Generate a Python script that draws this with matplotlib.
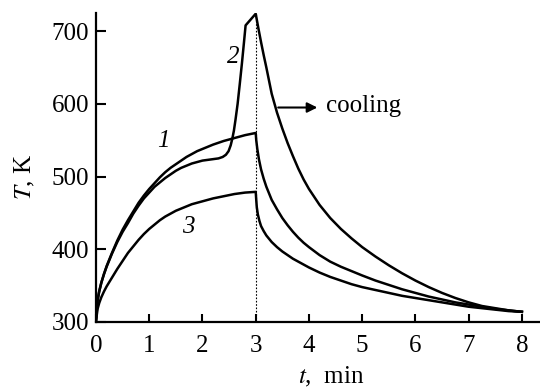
import matplotlib
matplotlib.use("Agg")
import matplotlib.pyplot as plt

plt.rcParams['font.family'] = ['Liberation Serif', 'DejaVu Serif']
plt.rcParams['mathtext.fontset'] = 'stix'

# heating part, shared time grid for curves 1 and 3
t_heat = [0, 0.03, 0.06, 0.1, 0.15, 0.2, 0.3, 0.4, 0.5, 0.6, 0.7, 0.8, 0.9, 1.0, 1.1, 1.2, 1.3,
          1.4, 1.5, 1.6, 1.7, 1.8, 1.9, 2.0, 2.2, 2.4, 2.6, 2.8, 3.0]
T1_heat = [302, 330, 342, 354, 366, 377, 395, 412, 427, 440, 452, 464, 474, 483, 491, 499, 506,
           512, 517, 522, 527, 531, 535, 538, 544, 549, 553, 557, 560]
T3_heat = [302, 318, 326, 334, 342, 349, 361, 373, 384, 395, 404, 413, 421, 428, 434, 440, 445,
           449, 453, 456, 459, 462, 464, 466, 470, 473, 476, 478, 479]

# curve 2 heating (with the jump before t = 3)
t2_heat = [0, 0.03, 0.06, 0.1, 0.15, 0.2, 0.3, 0.4, 0.5, 0.6, 0.7, 0.8, 0.9, 1.0, 1.1, 1.2, 1.3,
           1.4, 1.5, 1.6, 1.7, 1.8, 1.9, 2.0, 2.1, 2.2, 2.3, 2.38, 2.44, 2.49, 2.53, 2.56, 2.59,
           2.62, 2.66, 2.7, 2.74, 2.78, 2.81, 3.0]
T2_heat = [302, 330, 342, 354, 366, 376, 394, 410, 424, 436, 449, 460, 470, 478, 486, 492, 498,
           503, 508, 512, 515, 518, 520, 522, 523, 524, 525, 527, 530, 535, 543, 552, 563,
           578, 600, 627, 655, 685, 708, 724]

# cooling part
t1_cool = [3.01, 3.03, 3.06, 3.1, 3.15, 3.2, 3.3, 3.4, 3.5, 3.6, 3.7, 3.8, 3.9, 4.0, 4.2, 4.4,
           4.6, 4.8, 5.0, 5.25, 5.5, 5.75, 6.0, 6.25, 6.5, 6.75, 7.0, 7.25, 7.5, 7.75, 8.0]
T1_cool = [550, 538, 524, 510, 497, 486, 468, 455, 443, 433, 424, 416, 409, 403, 392, 383,
           376, 370, 364, 357, 351, 345, 340, 335, 331, 327, 324, 321, 318, 316, 314]

t2_cool = [3.05, 3.1, 3.15, 3.2, 3.3, 3.4, 3.5, 3.6, 3.7, 3.8, 3.9, 4.0, 4.2, 4.4, 4.6, 4.8,
           5.0, 5.25, 5.5, 5.75, 6.0, 6.25, 6.5, 6.75, 7.0, 7.25, 7.5, 7.75, 8.0]
T2_cool = [704, 685, 667, 650, 614, 588, 566, 546, 528, 511, 496, 483, 461, 443, 428, 415,
           403, 390, 378, 367, 357, 348, 340, 333, 327, 322, 319, 316, 314]

t3_cool = [3.01, 3.02, 3.04, 3.07, 3.1, 3.15, 3.2, 3.3, 3.4, 3.5, 3.6, 3.7, 3.8, 3.9, 4.0, 4.2,
           4.4, 4.6, 4.8, 5.0, 5.25, 5.5, 5.75, 6.0, 6.25, 6.5, 6.75, 7.0, 7.25, 7.5, 7.75, 8.0]
T3_cool = [468, 458, 448, 439, 432, 425, 419, 410, 403, 397, 392, 387, 383, 379, 375, 368,
           362, 357, 352, 348, 344, 340, 336, 333, 330, 327, 324, 321, 319, 317, 315, 314]

xticks = [0, 1, 2, 3, 4, 5, 6, 7, 8]
yticks = [300, 400, 500, 600, 700]

fig = plt.figure(figsize=(5.4, 3.89), dpi=100)
ax = fig.add_axes([96 / 540, 67 / 389, 444 / 540, 309 / 389])

curves = [(t_heat + t1_cool, T1_heat + T1_cool),
          (t2_heat + t2_cool, T2_heat + T2_cool),
          (t_heat + t3_cool, T3_heat + T3_cool)]
for t, T in curves:
    ax.plot(t, T, color='black', lw=1.8)

# dotted line where cooling starts
ax.plot([3, 3], [300, 724], color='black', lw=0.8, ls=(0, (1.5, 1.5)))

ax.set_xlim(0, 8.34)
ax.set_ylim(300, 725)
ax.set_xticks(xticks)
ax.set_yticks(yticks)
ax.spines['top'].set_visible(False)
ax.spines['right'].set_visible(False)
for s in ['left', 'bottom']:
    ax.spines[s].set_linewidth(1.6)
ax.tick_params(axis='both', direction='in', width=1.5, labelsize=18)
ax.tick_params(axis='x', length=6, pad=9)
ax.tick_params(axis='y', length=7, pad=5)

ax.set_xlabel('$t$,  min', fontsize=18, labelpad=0)
ax.set_ylabel('$T$, K', fontsize=18)
ax.xaxis.set_label_coords(0.53, -0.14)
ax.yaxis.set_label_coords(-0.133, 0.47)

ax.text(1.26, 549, '1', fontsize=18, style='italic', ha='center', va='center')
ax.text(2.57, 664, '2', fontsize=18, style='italic', ha='center', va='center')
ax.text(1.73, 431, '3', fontsize=18, style='italic', ha='center', va='center')

ax.annotate('', xy=(4.21, 595), xytext=(3.37, 595),
            arrowprops=dict(arrowstyle='-|>,head_length=0.6,head_width=0.3', color='black', lw=1.5))
ax.text(4.32, 597, 'cooling', fontsize=18, ha='left', va='center')

fig.savefig('out.png', dpi=100)
